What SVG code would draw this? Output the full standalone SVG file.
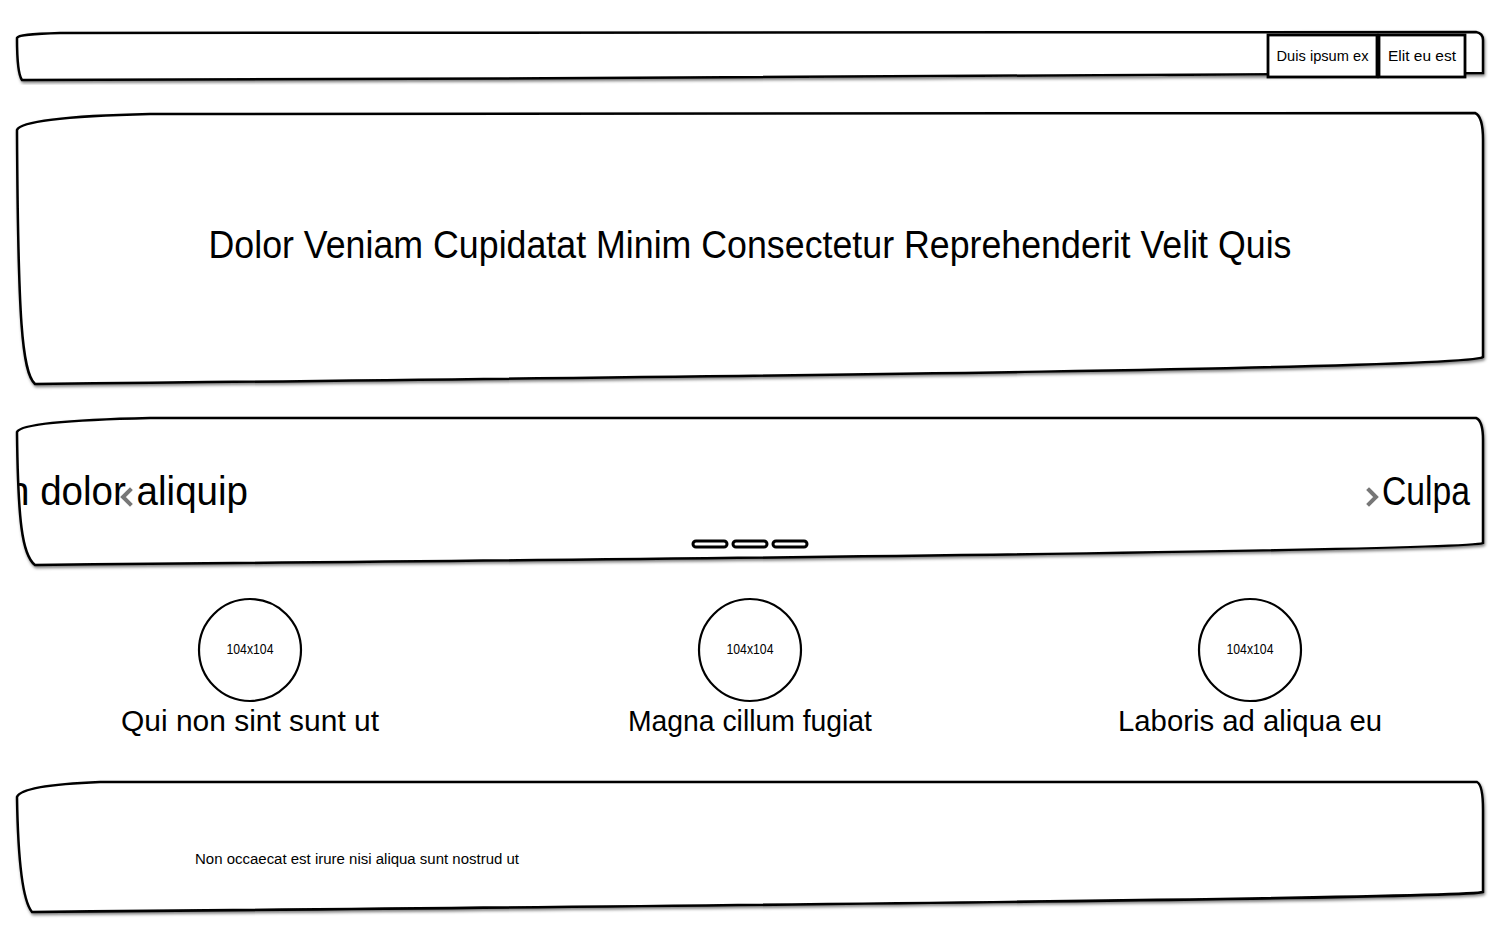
<svg xmlns="http://www.w3.org/2000/svg" width="1500" height="945" viewBox="0 0 1500 945">
<defs>
<filter id="sh" x="-5%" y="-5%" width="110%" height="115%">
<feDropShadow dx="1" dy="2" stdDeviation="1.5" flood-color="#000" flood-opacity="0.5"/>
</filter>
<clipPath id="carclip"><path d="M17,432 C20,425 60,420 150,418 L1476,418 C1481,420 1483,430 1483,440 L1483,543 C1470,550 800,558 35,565 C22,555 18,520 17,432 Z"/></clipPath>
<style>
.box{fill:#fff;stroke:#000;stroke-width:2.5;filter:url(#sh)}
.btn{fill:#fff;stroke:#000;stroke-width:2.8}
.t{font-family:"Liberation Sans",Arial,sans-serif;fill:#000}
.chev{fill:none;stroke:#777;stroke-width:4;stroke-linecap:square}
.dot{fill:#fff;stroke:#000;stroke-width:3}
.circ{fill:#fff;stroke:#000;stroke-width:2.2}
</style>
</defs>
<rect width="1500" height="945" fill="#fff"/>

<g id="header">
<path class="box" d="M17,38 C18,35 30,34 60,33 L1476,32 C1481,33 1483,36 1483,40 L1483,73 C1470,76 600,78 22,80 C19,76 17,60 17,38 Z"/>
<g id="btn-duis">
<rect class="btn" x="1268" y="35" width="109" height="42"/>
<text class="t" x="1322.5" y="61" font-size="14" text-anchor="middle" textLength="92" lengthAdjust="spacingAndGlyphs">Duis ipsum ex</text>
</g>
<g id="btn-elit">
<rect class="btn" x="1379" y="35" width="86" height="42"/>
<text class="t" x="1422" y="61" font-size="14" text-anchor="middle" textLength="68" lengthAdjust="spacingAndGlyphs">Elit eu est</text>
</g>
</g>

<g id="hero">
<path class="box" d="M17,130 C20,122 60,116 150,114 L1475,113 C1480,115 1483,125 1483,140 L1483,357 C1470,368 800,376 35,384 C22,372 18,320 17,130 Z"/>
<text class="t" x="750" y="258" font-size="38" text-anchor="middle" textLength="1083" lengthAdjust="spacingAndGlyphs">Dolor Veniam Cupidatat Minim Consectetur Reprehenderit Velit Quis</text>
</g>

<g id="carousel">
<path class="box" d="M17,432 C20,425 60,420 150,418 L1476,418 C1481,420 1483,430 1483,440 L1483,543 C1470,550 800,558 35,565 C22,555 18,520 17,432 Z"/>
<g clip-path="url(#carclip)">
<text class="t" x="8" y="505" font-size="40" textLength="240" lengthAdjust="spacingAndGlyphs">n dolor aliquip</text>
<text class="t" x="1382" y="505" font-size="40" textLength="88" lengthAdjust="spacingAndGlyphs">Culpa</text>
</g>
<path class="chev" d="M130,490 L123,497 L130,504"/>
<path class="chev" d="M1369,490 L1376,497 L1369,504"/>
<rect class="dot" x="693" y="541" width="34" height="6" rx="3"/>
<rect class="dot" x="733" y="541" width="34" height="6" rx="3"/>
<rect class="dot" x="773" y="541" width="34" height="6" rx="3"/>
</g>

<g id="feature-1">
<circle class="circ" cx="250" cy="650" r="51"/>
<text class="t" x="250" y="654" font-size="14" text-anchor="middle" textLength="47" lengthAdjust="spacingAndGlyphs">104x104</text>
<text class="t" x="250" y="731" font-size="30" text-anchor="middle" textLength="258" lengthAdjust="spacingAndGlyphs">Qui non sint sunt ut</text>
</g>
<g id="feature-2">
<circle class="circ" cx="750" cy="650" r="51"/>
<text class="t" x="750" y="654" font-size="14" text-anchor="middle" textLength="47" lengthAdjust="spacingAndGlyphs">104x104</text>
<text class="t" x="750" y="731" font-size="30" text-anchor="middle" textLength="244" lengthAdjust="spacingAndGlyphs">Magna cillum fugiat</text>
</g>
<g id="feature-3">
<circle class="circ" cx="1250" cy="650" r="51"/>
<text class="t" x="1250" y="654" font-size="14" text-anchor="middle" textLength="47" lengthAdjust="spacingAndGlyphs">104x104</text>
<text class="t" x="1250" y="731" font-size="30" text-anchor="middle" textLength="264" lengthAdjust="spacingAndGlyphs">Laboris ad aliqua eu</text>
</g>

<g id="footer">
<path class="box" d="M17,797 C20,789 50,784 100,782 L1477,782 C1481,784 1483,795 1483,810 L1483,892 C1470,898 800,905 32,912 C22,900 18,860 17,797 Z"/>
<text class="t" x="195" y="864" font-size="14" textLength="324" lengthAdjust="spacingAndGlyphs">Non occaecat est irure nisi aliqua sunt nostrud ut</text>
</g>

<g id="connectors"/>
</svg>
